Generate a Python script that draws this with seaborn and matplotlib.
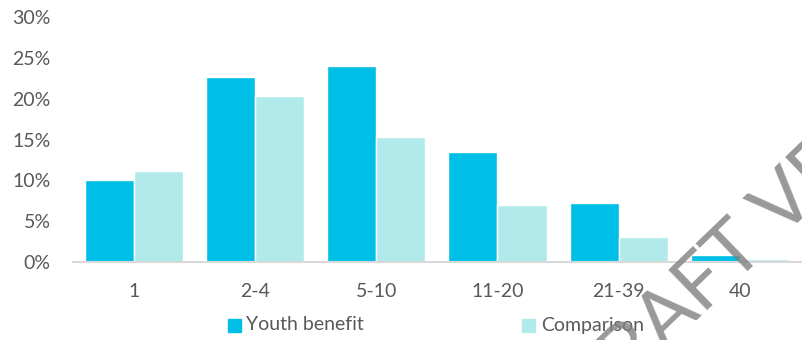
import matplotlib
matplotlib.use("Agg")
import matplotlib.pyplot as plt
import seaborn as sns
import pandas as pd
from matplotlib.patches import Rectangle

categories = ["1", "2-4", "5-10", "11-20", "21-39", "40"]
youth_benefit = [10.0, 22.6, 24.0, 13.5, 7.2, 0.9]
comparison = [11.1, 20.3, 15.3, 7.0, 3.1, 0.4]
series_names = ["Youth benefit", "Comparison"]
y_ticks = [0, 5, 10, 15, 20, 25, 30]

df = pd.DataFrame({
    "cat": categories * 2,
    "value": youth_benefit + comparison,
    "series": [series_names[0]] * len(categories) + [series_names[1]] * len(categories),
})

sns.set_theme(style="white")
plt.rcParams["font.family"] = ["Lato", "DejaVu Sans"]

fig = plt.figure(figsize=(8.03, 3.40), dpi=100)
ax = fig.add_axes([0.091, 0.229, 0.906, 0.721])

sns.barplot(data=df, x="cat", y="value", hue="series", order=categories,
            hue_order=series_names, palette=["#00BFE6", "#B0EAEA"],
            width=0.81, saturation=1, ax=ax, legend=False)

ax.set_ylim(0, 30)
ax.set_xlim(-0.5, len(categories) - 0.5)
ax.set_yticks(y_ticks)
ax.set_yticklabels([f"{t}%" for t in y_ticks])
ax.set_xlabel("")
ax.set_ylabel("")
for s in ["top", "right", "left"]:
    ax.spines[s].set_visible(False)
ax.spines["bottom"].set_color("#D9D9D9")
ax.spines["bottom"].set_linewidth(1.5)
ax.tick_params(axis="both", length=0, labelsize=14, colors="#595959")
ax.tick_params(axis="y", pad=16)
ax.tick_params(axis="x", pad=15)

# legend
fig.patches.append(Rectangle((228 / 803, 1 - 332 / 340), 13 / 803, 13 / 340,
                             transform=fig.transFigure, color="#00BFE6"))
fig.text(246 / 803, 1 - 325 / 340, series_names[0], fontsize=14, color="#595959",
         va="center", ha="left")
fig.patches.append(Rectangle((522 / 803, 1 - 332 / 340), 13 / 803, 13 / 340,
                             transform=fig.transFigure, color="#B0EAEA"))
fig.text(541 / 803, 1 - 325 / 340, series_names[1], fontsize=14, color="#595959",
         va="center", ha="left")

# watermark
fig.text(588 / 803, -0.256, "DRAFT VERSION", fontsize=56, color="#7F7F7F", alpha=0.8,
         rotation=44, ha="left", va="baseline", rotation_mode="anchor",
         family=["Lato", "DejaVu Sans"])

fig.savefig("out.png", dpi=100)
